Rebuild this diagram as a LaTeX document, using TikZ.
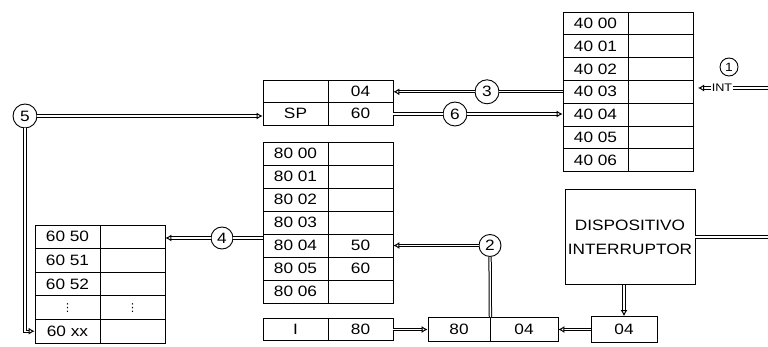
\documentclass[tikz,border=0pt]{standalone}
\usepackage{fontspec}
\setmainfont{Liberation Sans}[FakeStretch=1.15]
\newfontfamily\dotsfont{DejaVu Sans}
\usetikzlibrary{arrows.meta}
\begin{document}
\begin{tikzpicture}[x=1pt,y=-1pt,font=\fontsize{15}{16}\selectfont,
  cel/.style={draw,line width=0.8pt,minimum width=65pt,minimum height=23pt,inner sep=0pt},
  num/.style={draw,circle,line width=0.9pt,minimum size=22pt,inner sep=0pt,fill=white},
  bus/.style={double,double distance=1.3pt,line width=1pt},
  tip/.style={-{Latex[open,length=6pt,width=7pt]}}]
  \useasboundingbox (0,0) rectangle (768,347);
  % vector table
  \node[cel,minimum height=22.8pt] (v0) at (595.5,23.4){40 00}; \node[cel,minimum height=22.8pt] (w0) at (660.5,23.4){};
  \node[cel,minimum height=22.8pt] (v1) at (595.5,46.2){40 01}; \node[cel,minimum height=22.8pt] (w1) at (660.5,46.2){};
  \node[cel,minimum height=22.8pt] (v2) at (595.5,69.0){40 02}; \node[cel,minimum height=22.8pt] (w2) at (660.5,69.0){};
  \node[cel,minimum height=22.8pt] (v3) at (595.5,91.8){40 03}; \node[cel,minimum height=22.8pt] (w3) at (660.5,91.8){};
  \node[cel,minimum height=22.8pt] (v4) at (595.5,114.6){40 04}; \node[cel,minimum height=22.8pt] (w4) at (660.5,114.6){};
  \node[cel,minimum height=22.8pt] (v5) at (595.5,137.4){40 05}; \node[cel,minimum height=22.8pt] (w5) at (660.5,137.4){};
  \node[cel,minimum height=22.8pt] (v6) at (595.5,160.2){40 06}; \node[cel,minimum height=22.8pt] (w6) at (660.5,160.2){};
  % SP registers
  \node[cel,minimum height=22.5pt] (sa0) at (295.5,91.25){}; \node[cel,minimum height=22.5pt] (sd0) at (360.5,91.25){04};
  \node[cel,minimum height=22.5pt] (sa1) at (295.5,113.75){SP}; \node[cel,minimum height=22.5pt] (sd1) at (360.5,113.75){60};
  % memory 80xx
  \node[cel] (m0) at (295.5,153.5){80 00}; \node[cel] (n0) at (360.5,153.5){};
  \node[cel] (m1) at (295.5,176.5){80 01}; \node[cel] (n1) at (360.5,176.5){};
  \node[cel] (m2) at (295.5,199.5){80 02}; \node[cel] (n2) at (360.5,199.5){};
  \node[cel] (m3) at (295.5,222.5){80 03}; \node[cel] (n3) at (360.5,222.5){};
  \node[cel] (m4) at (295.5,245.5){80 04}; \node[cel] (n4) at (360.5,245.5){50};
  \node[cel] (m5) at (295.5,268.5){80 05}; \node[cel] (n5) at (360.5,268.5){60};
  \node[cel] (m6) at (295.5,291.5){80 06}; \node[cel] (n6) at (360.5,291.5){};
  % stack 60xx
  \node[cel,minimum height=23.6pt] (s0) at (67.5,236.8){60 50}; \node[cel,minimum height=23.6pt] (t0) at (132.5,236.8){};
  \node[cel,minimum height=23.6pt] (s1) at (67.5,260.4){60 51}; \node[cel,minimum height=23.6pt] (t1) at (132.5,260.4){};
  \node[cel,minimum height=23.6pt] (s2) at (67.5,284.0){60 52}; \node[cel,minimum height=23.6pt] (t2) at (132.5,284.0){};
  \node[cel,minimum height=23.6pt,font=\dotsfont\fontsize{11}{12}\selectfont] (s3) at (67.5,307.6){⋮}; \node[cel,minimum height=23.6pt,font=\dotsfont\fontsize{11}{12}\selectfont] (t3) at (132.5,307.6){⋮};
  \node[cel,minimum height=23.6pt] (s4) at (67.5,331.2){60 xx}; \node[cel,minimum height=23.6pt] (t4) at (132.5,331.2){};
  % bottom row
  \node[cel,minimum height=22pt] (ia) at (295.5,329.5){I}; \node[cel,minimum height=22pt] (ib) at (360.5,329.5){80};
  \node[cel,minimum width=62pt,minimum height=24pt] (ra) at (459,329.5){80}; \node[cel,minimum width=68pt,minimum height=24pt] (rb) at (524,329.5){04};
  \node[cel,minimum width=66pt,minimum height=26pt] (lo) at (624,329.5){04};
  \node[cel,minimum width=130pt,minimum height=95pt,align=center,font=\fontsize{15}{24}\selectfont] (disp) at (630,237){DISPOSITIVO\\INTERRUPTOR};
  % steps
  \node[num,minimum size=18pt,fill=none,font=\fontsize{12}{12}\selectfont] (c1) at (729,67){1};
  \node[num] (c2) at (490,245.5){2};
  \node[num,minimum size=24pt] (c3) at (487,91.8){3};
  \node[num] (c4) at (222,238){4};
  \node[num,minimum size=24pt] (c5) at (25,116){5};
  \node[num,minimum size=24pt] (c6) at (455,114){6};
  \node[font=\fontsize{11}{12}\selectfont,inner sep=1pt] (int) at (722,88){INT};
  \coordinate (intR) at (768,88);
  \coordinate (intL) at (698,88);
  \coordinate (dispR) at (768,237);
  % buses
  \draw[bus] (intR) -- (int);
  \draw[bus,tip] (int) -- (intL);
  \draw[bus] (c3 -| v3.west) -- (c3);
  \draw[bus,tip] (c3) -- (c3 -| sd0.east);
  \draw[bus] (c6 -| sd1.east) -- (c6);
  \draw[bus,tip] (c6) -- (c6 -| v4.west);
  \draw[bus,tip] (c5) -- (c5 -| sa1.west);
  \draw[bus,tip] (c5) |- (s4.west);
  \draw[bus] (c4 -| m4.west) -- (c4);
  \draw[bus,tip] (c4) -- (c4 -| t0.east);
  \draw[bus,tip] (c2) -- (c2 -| n4.east);
  \draw[bus] (c2) -- (ra.north east);
  \draw[bus,tip] (ib) -- (ra);
  \draw[bus,tip] (lo) -- (rb);
  \draw[bus,tip] (disp.south -| lo.north) -- (lo.north);
  \draw[bus] (disp) -- (dispR);
\end{tikzpicture}
\end{document}
